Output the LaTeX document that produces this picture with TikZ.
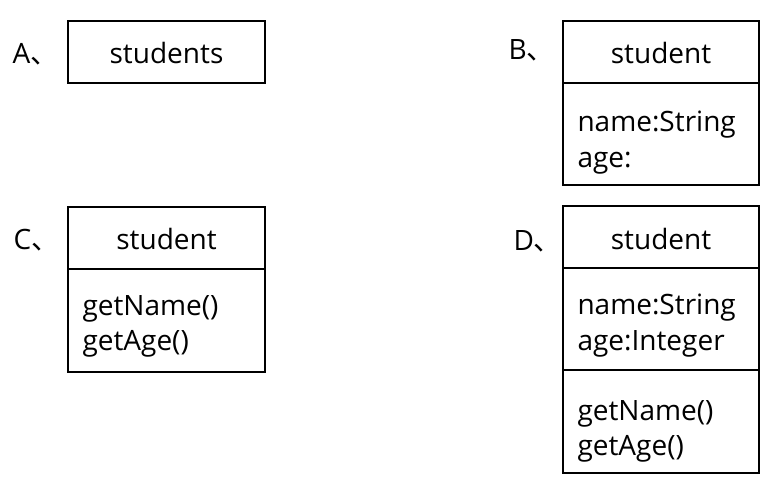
\documentclass[tikz,border=0pt]{standalone}
\usepackage{fontspec}
\setmainfont{Open Sans}
\newfontfamily\cjk{Noto Sans CJK SC}
\begin{document}
\begin{tikzpicture}[x=0.75pt, y=-0.75pt, line width=0.8pt,
  every node/.style={font=\fontsize{21}{26}\selectfont, inner sep=0pt},
  title/.style={anchor=base},
  member/.style={anchor=base west},
  choice/.style={anchor=base west}]
  \useasboundingbox (0,0) rectangle (778,483);
  % option A
  \coordinate (A1) at (68,21); \coordinate (A2) at (265,83);
  \draw (A1) rectangle (A2);
  \node[choice] (labA) at (12,63) {A\cjk 、};
  \node[title] (clsA) at (166.5,63) {students};
  % option B
  \coordinate (B1) at (563,21); \coordinate (B2) at (759,185);
  \draw (B1) rectangle (B2);
  \draw (563,83) -- (759,83);
  \node[choice] (labB) at (508,59) {B\cjk 、};
  \node[title] (clsB) at (661,63) {student};
  \node[member] (nameB) at (577,131) {name:String};
  \node[member] (ageB) at (577,167) {age:};
  % option C
  \coordinate (C1) at (68,207); \coordinate (C2) at (265,372);
  \draw (C1) rectangle (C2);
  \draw (68,269) -- (265,269);
  \node[choice] (labC) at (13,249) {C\cjk 、};
  \node[title] (clsC) at (166.5,249) {student};
  \node[member] (getnC) at (82,315) {getName()};
  \node[member] (getaC) at (82,350) {getAge()};
  % option D
  \coordinate (D1) at (563,206); \coordinate (D2) at (759,473);
  \draw (D1) rectangle (D2);
  \draw (563,268) -- (759,268);
  \draw (563,370) -- (759,370);
  \node[choice] (labD) at (513,250) {D\cjk 、};
  \node[title] (clsD) at (661,249) {student};
  \node[member] (nameD) at (577,314) {name:String};
  \node[member] (ageD) at (577,350) {age:Integer};
  \node[member] (getnD) at (577,420) {getName()};
  \node[member] (getaD) at (577,455) {getAge()};
\end{tikzpicture}
\end{document}
